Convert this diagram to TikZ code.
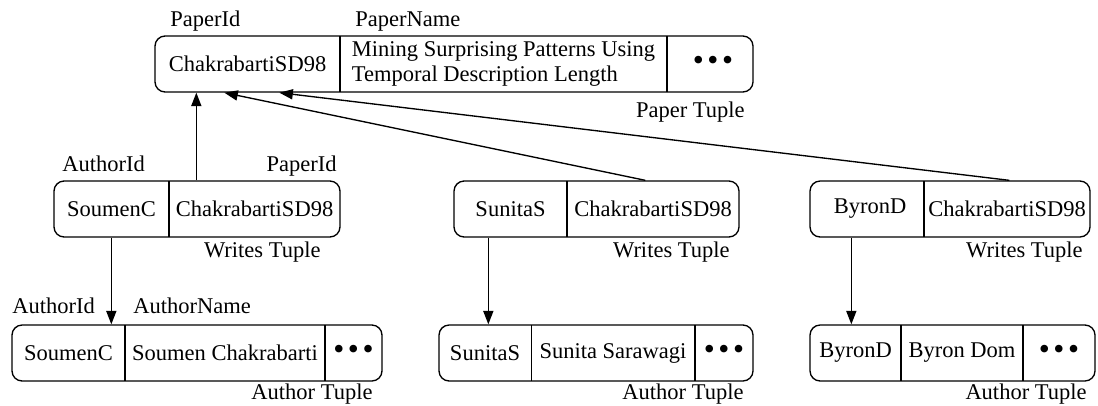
\documentclass[tikz,border=0pt]{standalone}
\usepackage{fontspec}
\setmainfont{Liberation Serif}
\usetikzlibrary{fit,calc,arrows.meta}
\newcommand{\tripledots}{{\fontsize{14pt}{14pt}\selectfont \raisebox{0.5pt}{•\kern1.6pt•\kern1.6pt•}}}
\begin{document}
\begin{tikzpicture}[x=0.4444pt,y=-0.4444pt,
  font=\fontsize{10pt}{11pt}\selectfont,
  tuple/.style={draw, rounded corners=4.5pt, inner sep=0pt, line width=0.6pt},
  divider/.style={line width=0.6pt},
  cell/.style={inner sep=0pt},
  lab/.style={inner sep=0pt},
  link/.style={-{Triangle[length=6pt,width=4.5pt]}, line width=0.6pt}]
\useasboundingbox (0,0) rectangle (1098,405);

% ---------- Paper tuple ----------
\node[tuple, fit={(155,36) (753,92)}] (P) {};
\draw[divider] (340,36) -- (340,92);
\draw[divider] (667,36) -- (667,92);
\node[cell] (Pid) at (247.5,64) {ChakrabartiSD98};
\node[cell, align=left] (Pname) at (503.5,64) {Mining Surprising Patterns Using\\Temporal Description Length};
\node[cell] (Pdots) at (713,64) {\tripledots};
\node[lab, anchor=base west] (PidL) at (170,26) {PaperId};
\node[lab, anchor=base west] (PnameL) at (355,26) {PaperName};
\node[lab, anchor=base east] (PT) at (745,117) {Paper Tuple};

% ---------- Writes tuples ----------
\node[tuple, fit={(54,181) (340,237)}] (W1) {};
\draw[divider] (169,181) -- (169,237);
\node[cell] (W1a) at (111.5,209) {SoumenC};
\node[cell] (W1p) at (254.5,209) {ChakrabartiSD98};
\node[lab, anchor=base west] (W1aL) at (62,171) {AuthorId};
\node[lab, anchor=base east] (W1pL) at (337,171) {PaperId};
\node[lab, anchor=base east] (W1T) at (321,257) {Writes Tuple};

\node[tuple, fit={(454,181) (739,237)}] (W2) {};
\draw[divider] (567,181) -- (567,237);
\node[cell] (W2a) at (510.5,209) {SunitaS};
\node[cell] (W2p) at (653,209) {ChakrabartiSD98};
\node[lab, anchor=base east] (W2T) at (730,257) {Writes Tuple};

\node[tuple, fit={(810,181) (1090,237)}] (W3) {};
\draw[divider] (924,181) -- (924,237);
\node[cell] (W3a) at (870,209) {ByronD};
\node[cell] (W3p) at (1007,209) {ChakrabartiSD98};
\node[lab, anchor=base east] (W3T) at (1083,257) {Writes Tuple};

% ---------- Author tuples ----------
\node[tuple, fit={(12,325) (382,381)}] (A1) {};
\draw[divider] (125,325) -- (125,381);
\draw[divider] (325,325) -- (325,381);
\node[cell] (A1a) at (68.5,353) {SoumenC};
\node[cell] (A1n) at (225,353) {Soumen Chakrabarti};
\node[cell] (A1d) at (353.5,353) {\tripledots};
\node[lab, anchor=base west] (A1aL) at (12,313) {AuthorId};
\node[lab, anchor=base west] (A1nL) at (133,313) {AuthorName};
\node[lab, anchor=base east] (A1T) at (373,399) {Author Tuple};

\node[tuple, fit={(439,325) (753,381)}] (A2) {};
\draw[divider] (531.5,325) -- (531.5,381);
\draw[divider] (695,325) -- (695,381);
\node[cell] (A2a) at (485,353) {SunitaS};
\node[cell] (A2n) at (613,353) {Sunita Sarawagi};
\node[cell] (A2d) at (724,353) {\tripledots};
\node[lab, anchor=base east] (A2T) at (744,399) {Author Tuple};

\node[tuple, fit={(810,325) (1095,381)}] (A3) {};
\draw[divider] (901,325) -- (901,381);
\draw[divider] (1023,325) -- (1023,381);
\node[cell] (A3a) at (855.5,353) {ByronD};
\node[cell] (A3n) at (962,353) {Byron Dom};
\node[cell] (A3d) at (1059,353) {\tripledots};
\node[lab, anchor=base east] (A3T) at (1087,399) {Author Tuple};

% ---------- connectors ----------
\draw[link] ($(W1.north west)+(143,0)$) -- ($(P.south west)+(42,0)$);
\draw[link] ($(W2.north west)+(192,0)$) -- ($(P.south west)+(70,0)$);
\draw[link] ($(W3.north west)+(200,0)$) -- ($(P.south west)+(125,0)$);
\draw[link] ($(W1.south west)+(58,0)$) -- ($(A1.north west)+(100,0)$);
\draw[link] ($(W2.south west)+(35,0)$) -- ($(A2.north west)+(50,0)$);
\draw[link] ($(W3.south west)+(42,0)$) -- ($(A3.north west)+(42,0)$);
\end{tikzpicture}
\end{document}
